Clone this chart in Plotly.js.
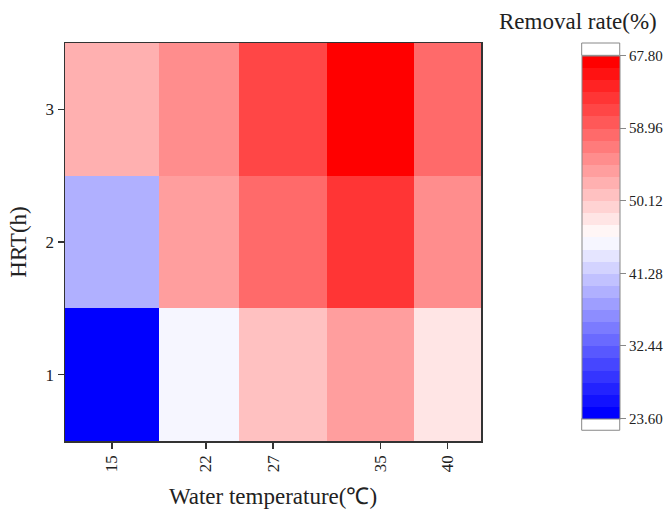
<!DOCTYPE html>
<html>
<head>
<meta charset="utf-8">
<script src="https://cdn.plot.ly/plotly-3.0.1.min.js"></script>
<style>html,body{margin:0;padding:0;background:#fff;}</style>
</head>
<body>
<div id="chart" style="width:665px;height:515px;"></div>
<script>
// Data
var waterTemp = [15, 22, 27, 35, 40];
var hrt = [1, 2, 3];
var removalHRT1 = [23.6, 45.0, 50.9, 53.8, 47.9];
var removalHRT2 = [39.1, 53.8, 58.2, 62.6, 55.3];
var removalHRT3 = [52.3, 55.3, 61.2, 67.8, 58.2];
var zMin = 23.60, zMax = 67.80;
var cbTickVals = [23.60, 32.44, 41.28, 50.12, 58.96, 67.80];
var cbTickText = ['23.60', '32.44', '41.28', '50.12', '58.96', '67.80'];

// Stepped blue-white-red colour scale (30 levels)
var nLevels = 30;
var colorscale = [];
for (var i = 0; i < nLevels; i++) {
  var t = i / (nLevels - 1);
  var r, g, b;
  if (t <= 0.5) { r = g = Math.round(255 * 2 * t); b = 255; }
  else { r = 255; g = b = Math.round(255 * (2 - 2 * t)); }
  var c = 'rgb(' + r + ',' + g + ',' + b + ')';
  colorscale.push([i / nLevels, c]);
  colorscale.push([(i + 1) / nLevels, c]);
}

var serif = 'Liberation Serif, Times New Roman, serif';
var axisColor = '#333333';

var trace = {
  type: 'heatmap',
  x: waterTemp,
  y: hrt,
  z: [removalHRT1, removalHRT2, removalHRT3],
  zmin: zMin,
  zmax: zMax,
  colorscale: colorscale,
  hoverongaps: false,
  colorbar: {
    x: 1.242, xanchor: 'left', xpad: 0,
    y: 0.0564, yanchor: 'bottom', ypad: 0,
    len: 0.9126, lenmode: 'fraction',
    thickness: 38,
    outlinecolor: '#888888', outlinewidth: 1,
    tickmode: 'array', tickvals: cbTickVals, ticktext: cbTickText,
    ticks: 'outside', ticklen: 6, tickcolor: '#888888',
    tickfont: {family: serif, size: 15, color: '#222'}
  }
};

var x0 = 1.242, x1 = 1.242 + 38 / 415.4;
var layout = {
  width: 665, height: 515,
  margin: {l: 65, r: 184, t: 43, b: 74, autoexpand: false},
  paper_bgcolor: '#fff', plot_bgcolor: '#fff',
  font: {family: serif, color: '#222'},
  xaxis: {
    range: [11.5, 42.5],
    tickmode: 'array', tickvals: waterTemp,
    tickangle: -90,
    ticks: 'outside', ticklen: 6, tickcolor: axisColor, tickwidth: 1.2,
    showline: true, linecolor: axisColor, linewidth: 1.5, mirror: true,
    showgrid: false, zeroline: false,
    tickfont: {family: serif, size: 17, color: '#222'},
    title: {text: 'Water temperature(℃)', font: {family: serif, size: 23, color: '#222'}, standoff: 16}
  },
  yaxis: {
    range: [0.5, 3.5],
    tickmode: 'array', tickvals: hrt,
    ticks: 'outside', ticklen: 6, tickcolor: axisColor, tickwidth: 1.2,
    showline: true, linecolor: axisColor, linewidth: 1.5, mirror: true,
    showgrid: false, zeroline: false,
    tickfont: {family: serif, size: 17, color: '#222'},
    title: {text: 'HRT(h)', font: {family: serif, size: 23, color: '#222'}, standoff: 12}
  },
  shapes: [
    {type: 'rect', xref: 'paper', yref: 'paper', x0: x0, x1: x1, y0: 0.969, y1: 1.0,
     fillcolor: '#ffffff', line: {color: '#888888', width: 1}},
    {type: 'rect', xref: 'paper', yref: 'paper', x0: x0, x1: x1, y0: 0.027, y1: 0.0564,
     fillcolor: '#ffffff', line: {color: '#888888', width: 1}}
  ],
  annotations: [
    {text: 'Removal rate(%)', xref: 'paper', yref: 'paper', x: 1.232, y: 1.054,
     xanchor: 'center', yanchor: 'middle', showarrow: false,
     font: {family: serif, size: 23, color: '#222'}}
  ]
};

Plotly.newPlot('chart', [trace], layout, {displayModeBar: false, staticPlot: true});
</script>
</body>
</html>
